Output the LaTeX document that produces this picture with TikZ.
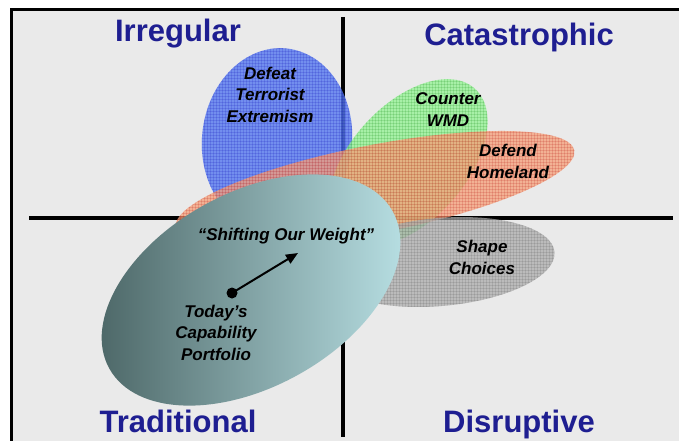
\documentclass[tikz,border=0pt]{standalone}
\usepackage{fontspec}
\setmainfont{Liberation Sans}
\usetikzlibrary{arrows.meta,patterns}
\definecolor{bggray}{RGB}{234,234,234}
\definecolor{titleblue}{RGB}{30,30,145}
\definecolor{blueE}{RGB}{85,120,240}
\definecolor{greenE}{RGB}{145,243,145}
\definecolor{orangeE}{RGB}{246,158,120}
\definecolor{greyE}{RGB}{172,172,172}
\definecolor{tealdark}{RGB}{72,98,98}
\definecolor{tealmid}{RGB}{140,178,180}
\definecolor{teallight}{RGB}{188,228,232}
\tikzset{
  quadline/.style={line width=3.5pt, black},
  frameline/.style={line width=3pt, black, line join=miter},
  title/.style={text=titleblue, font=\fontsize{31}{34}\selectfont\bfseries, anchor=base, inner sep=0pt},
  label/.style={font=\fontsize{17}{21.5}\selectfont\bfseries\itshape, align=center, anchor=base, inner sep=0pt},
  blob/.style={opacity=0.75},
  mesh/.style={pattern=grid, pattern color=#1, opacity=0.15},
}
\begin{document}
\begin{tikzpicture}[x=1pt,y=-1pt]
\useasboundingbox (0,0) rectangle (679,441);
\fill[white] (0,0) rectangle (679,441);
\fill[bggray] (11,10) rectangle (679,441);
\draw[frameline] (11,441) -- (11,10) -- (679,10);
% quadrant lines
\coordinate (vt) at (343,17);
\coordinate (vb) at (343,437);
\coordinate (hl) at (29,218);
\coordinate (hr) at (673,218);
\draw[quadline] (vt) -- (vb);
\draw[quadline] (hl) -- (hr);
% ellipses
\fill[blueE, opacity=0.8, rotate around={-6:(277,140)}] (277,140) ellipse [x radius=75pt, y radius=92pt];
\fill[mesh=blue!70!black, rotate around={-6:(277,140)}] (277,140) ellipse [x radius=75pt, y radius=92pt];
\fill[greenE, blob, rotate around={48:(408,163)}] (408,163) ellipse [x radius=100pt, y radius=58pt];
\fill[mesh=green!50!black, rotate around={48:(408,163)}] (408,163) ellipse [x radius=100pt, y radius=58pt];
\fill[orangeE, blob, rotate around={11:(375,189)}] (375,189) ellipse [x radius=203pt, y radius=44pt];
\fill[mesh=red!70!black, rotate around={11:(375,189)}] (375,189) ellipse [x radius=203pt, y radius=44pt];
\fill[greyE, blob, rotate around={5:(440,262)}] (440,262) ellipse [x radius=115pt, y radius=44pt];
\fill[mesh=black!70, rotate around={5:(440,262)}] (440,262) ellipse [x radius=115pt, y radius=44pt];
\begin{scope}[rotate around={29:(251,290)}]
\shade[left color=tealdark, middle color=tealmid, right color=teallight] (251,290) ellipse [x radius=162pt, y radius=97pt];
\end{scope}
% titles
\node[title] (irr) at (178,42) {Irregular};
\node[title] (cat) at (519,46) {Catastrophic};
\node[title] (tra) at (178,432) {Traditional};
\node[title] (dis) at (519,432) {Disruptive};
% labels (anchored at the baseline of their last line)
\node[label] (dte) at (270,122) {Defeat\\Terrorist\\Extremism};
\node[label] (cwmd) at (448,126) {Counter\\WMD};
\node[label] (dh) at (508,178) {Defend\\Homeland};
\node[label] (sc) at (482,274) {Shape\\Choices};
\node[label] (sow) at (286,240) {``Shifting Our Weight''};
\node[label] (tcp) at (216,360) {Today's\\Capability\\Portfolio};
% arrow
\node[circle, fill=black, inner sep=0pt, minimum size=11pt] (dot) at (232,293) {};
\coordinate (tip) at (298,253);
\draw[line width=2pt, -{Triangle[length=12pt,width=10pt]}] (dot.center) -- (tip);
\end{tikzpicture}
\end{document}
